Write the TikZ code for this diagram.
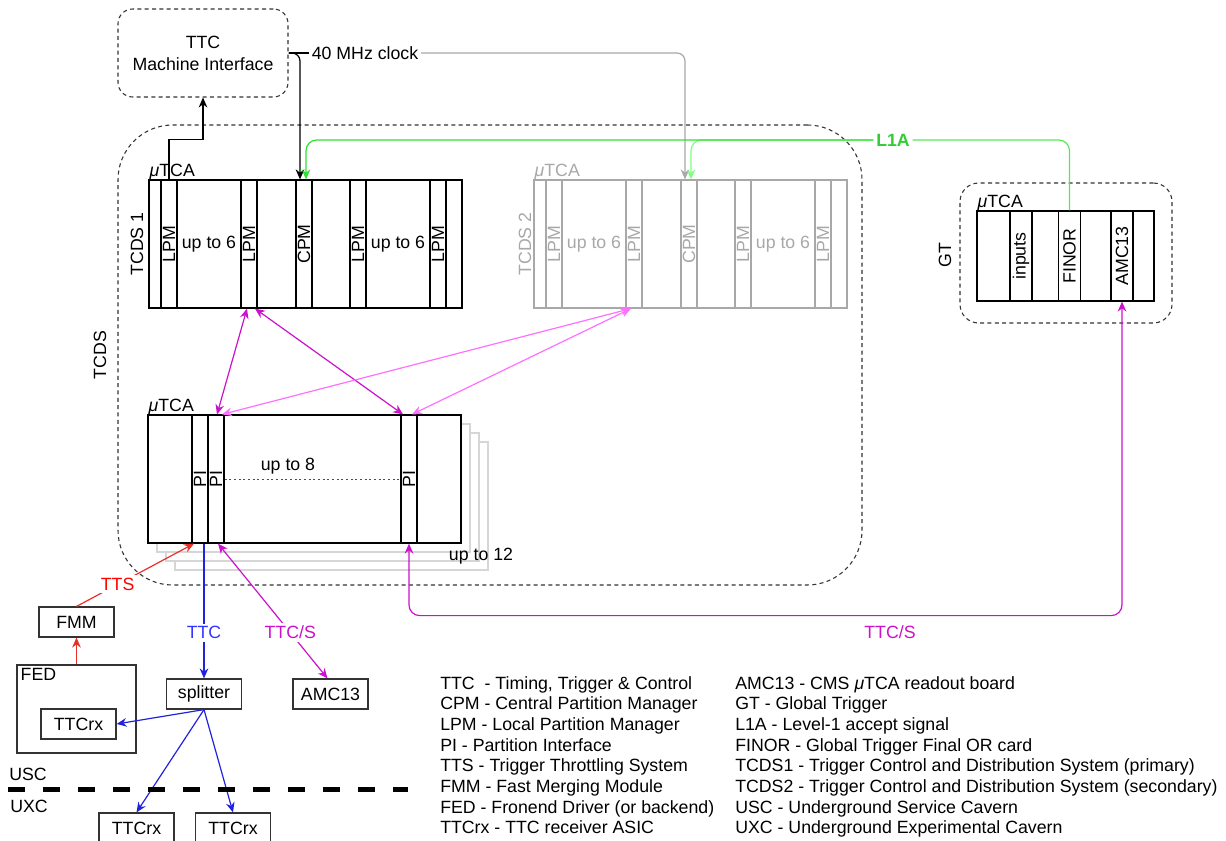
\documentclass[tikz,border=0pt]{standalone}
\usepackage{fontspec}
\setmainfont{Liberation Sans}
\usepackage{tikz}
\usetikzlibrary{arrows.meta, calc, positioning}
\definecolor{ttsred}{HTML}{E8302A}
\definecolor{ttcblue}{HTML}{2222DD}
\definecolor{ttcsdark}{HTML}{CC11CC}
\definecolor{ttcslight}{HTML}{FF70FF}
\definecolor{lonea}{HTML}{2FE02F}
\definecolor{loneb}{HTML}{80FF80}
\definecolor{lonetext}{HTML}{33CC33}
\definecolor{greyed}{HTML}{A8A8A8}
\definecolor{shade}{HTML}{D6D6D6}
\newcommand{\dfont}{\fontsize{13.3}{15.5}\selectfont}

\begin{document}
\begin{tikzpicture}[x=0.75pt, y=-0.75pt,
        every node/.append style={font=\dfont},
        crate/.style={draw, fill=white, inner sep=0pt, minimum height=96pt, line width=0.9pt},
        slot/.style={draw, inner sep=0pt, minimum width=12pt, minimum height=96pt, line width=0.9pt},
        gslot/.style={slot, minimum width=16.5pt, minimum height=67.5pt},
        box/.style={draw=black!80, inner sep=0pt, minimum width=56.25pt, minimum height=22.5pt, line width=0.9pt},
        group/.style={draw=black!80, dash pattern=on 3pt off 2.5pt, line width=0.8pt, inner sep=0pt},
        mu/.style={anchor=base west, inner sep=0pt},
        arr/.style={-{Stealth[length=7.5pt,width=6.5pt]}, line width=0.9pt},
        bi/.style={{Stealth[length=7.5pt,width=6.5pt]}-{Stealth[length=7.5pt,width=6.5pt]}, line width=0.9pt},
        sig/.style={fill=white, inner sep=2pt}
      ]
      \useasboundingbox (0,0) rectangle (1226,841);

      % dashed groups
      \node[group, rounded corners=41pt, minimum width=558pt, minimum height=345pt] (tcds) at (490,355) {};
      \node[rotate=90] (tcdslbl) at (100,355) {TCDS};
      \node[group, rounded corners=14pt, minimum width=159pt, minimum height=105pt] (gt) at (1066,253) {};
      \node[rotate=90] (gtlbl) at (945,255) {GT};
      \node[group, rounded corners=11pt, minimum width=127.5pt, minimum height=66pt, align=center,
            font=\fontsize{13.3}{16.5}\selectfont] (mi) at (203,53) {TTC\\Machine Interface};

      % TCDS 1
      \node[crate, minimum width=234.75pt] (tcdsa) at (305.5,244) {};
      \node[mu] (mua) at ($(tcdsa.north west)+(1,-3)$) {{\itshape μ}TCA};
      \node[rotate=90] (tcdsalbl) at (137,244) {TCDS 1};
      \node[slot] (lpma) at (169,244) {\rotatebox{90}{LPM}};
      \node (upa) at (209,244) {up to 6};
      \node[slot] (lpmb) at (249,244) {\rotatebox{90}{LPM}};
      \node[slot] (cpma) at (304,244) {\rotatebox{90}{CPM}};
      \node[slot] (lpmc) at (358,244) {\rotatebox{90}{LPM}};
      \node (upb) at (398,244) {up to 6};
      \node[slot] (lpmd) at (438,244) {\rotatebox{90}{LPM}};

      % TCDS 2
      \begin{scope}[every node/.append style={draw=greyed, text=greyed}]
      \node[crate, minimum width=234.75pt] (tcdsb) at (690.5,244) {};
      \node[slot] (lpmba) at (554,244) {\rotatebox{90}{LPM}};
      \node[slot] (lpmbb) at (634,244) {\rotatebox{90}{LPM}};
      \node[slot] (cpmb) at (689,244) {\rotatebox{90}{CPM}};
      \node[slot] (lpmbc) at (743,244) {\rotatebox{90}{LPM}};
      \node[slot] (lpmbd) at (823,244) {\rotatebox{90}{LPM}};
      \end{scope}
      \node[mu, text=greyed] (mub) at ($(tcdsb.north west)+(1,-3)$) {{\itshape μ}TCA};
      \node[rotate=90, text=greyed] (tcdsblbl) at (525,244) {TCDS 2};
      \node[text=greyed] (upc) at (594,244) {up to 6};
      \node[text=greyed] (upd) at (783,244) {up to 6};

      % PI crates, up to 12
      \foreach \k in {3,2,1}
        \node[crate, draw=shade, minimum width=234.75pt] at ({304.5+9*\k},{479+9*\k}) {};
      \node[crate, minimum width=234.75pt] (pic) at (304.5,479) {};
      \node[mu] (muc) at ($(pic.north west)+(1,-3)$) {{\itshape μ}TCA};
      \node[slot] (pia) at (200,479) {\rotatebox{90}{PI}};
      \node[slot] (pib) at (216,479) {\rotatebox{90}{PI}};
      \node[slot] (pic3) at (409,479) {\rotatebox{90}{PI}};
      \node (upe) at (288,466) {up to 8};
      \draw[black!70, dash pattern=on 1.5pt off 2pt, line width=0.6pt] (pib.east) -- (pic3.west);
      \node (upf) at (481,556) {up to 12};

      % GT crate
      \node[crate, minimum width=132.75pt, minimum height=67.5pt] (gtc) at (1065.5,256) {};
      \node[mu] (mud) at ($(gtc.north west)+(1,-3)$) {{\itshape μ}TCA};
      \node[gslot] (inp) at (1021,256) {\rotatebox{90}{inputs}};
      \node[gslot] (finor) at (1069.5,256) {\rotatebox{90}{FINOR}};
      \node[gslot] (gamc) at (1122,256) {\rotatebox{90}{AMC13}};

      % clock and L1A
      \node[sig] (clk) at (365,53) {40 MHz clock};
      \draw[line width=0.9pt] (mi.east) -- (clk.west);
      \draw[arr, greyed, rounded corners=6pt] (clk.east) -| ($(cpmb.north)+(-4,0)$);
      \draw[arr, rounded corners=6pt] (mi.east) -| ($(cpma.north)+(-4,0)$);
      \draw[arr] (lpma.north) -- ++(0,-40) -| (mi.south);
      \node[sig, text=lonetext, font=\dfont\bfseries] (l1a) at (893,140) {L1A};
      \draw[arr, loneb, rounded corners=8pt] (l1a.west) -| ($(cpmb.north)+(2,0)$);
      \draw[arr, lonea, rounded corners=8pt] (l1a.west) -| ($(cpma.north)+(2,0)$);
      \draw[line width=0.9pt, lonea!80, rounded corners=8pt] (finor.north) |- (l1a.east);

      % TTC/S links between crates
      \draw[bi, ttcsdark] ($(lpmb.south)+(-2,0)$) -- ($(pib.north)+(1,0)$);
      \draw[bi, ttcsdark] ($(lpmb.south)+(6,0)$) -- ($(pic3.north)+(-6,0)$);
      \draw[bi, ttcslight] ($(lpmbb.south)+(-3,0)$) -- ($(pib.north)+(6,0)$);
      \draw[bi, ttcslight] ($(lpmbb.south)+(-3,0)$) -- ($(pic3.north)+(3,0)$);
      \draw[bi, ttcsdark, rounded corners=8pt] (pic3.south) -- ++(0,72) -| (gamc.south);
      \node[text=ttcsdark] (ttcsgt) at (890,632) {TTC/S};

      % front end side
      \node[box] (fmm) at (76.5,622) {FMM};
      \node[draw=black!80, line width=0.9pt, minimum width=89.25pt, minimum height=66pt] (fed) at (76.5,709) {};
      \node[anchor=north west, inner sep=3pt] (fedlbl) at (fed.north west) {FED};
      \node[box] (rxfed) at (78.5,724) {TTCrx};
      \node[box] (split) at (204,694) {splitter};
      \node[box] (amcb) at (330.5,694) {AMC13};
      \node[box] (rxa) at (136.5,828) {TTCrx};
      \node[box] (rxb) at (233,828) {TTCrx};

      \draw[arr, ttsred] (fed.north) -- (fmm.south);
      \draw[arr, ttsred] (fmm.north) -- node[sig, pos=0.35, text=red] {TTS} ($(pia.south)+(-6,0)$);
      \draw[arr, ttcblue] ($(pia.south)+(4,0)$) -- node[sig, pos=0.66, text=blue!80] {TTC} (split.north);
      \draw[bi, ttcsdark] ($(pib.south)+(2,0)$) -- node[sig, pos=0.66, text=ttcsdark] {TTC/S} ($(amcb.north)+(-3,0)$);
      \draw[arr, ttcblue] (split.south) -- (rxfed.east);
      \draw[arr, ttcblue] (split.south) -- (rxa.north);
      \draw[arr, ttcblue] (split.south) -- (rxb.north);

      % cavern border
      \draw[line width=3.75pt, dash pattern=on 12.75pt off 13.5pt] (8,789) -- (408,789);
      \node (usc) at (28,774) {USC};
      \node (uxc) at (29,806) {UXC};

      % legend
      \node[anchor=north west, inner sep=0pt, align=left] (lega) at (440,676)
        {TTC\ \ - Timing, Trigger \& Control\\
         CPM - Central Partition Manager\\
         LPM - Local Partition Manager\\
         PI - Partition Interface\\
         TTS - Trigger Throttling System\\
         FMM - Fast Merging Module\\
         FED - Fronend Driver (or backend)\\
         TTCrx - TTC receiver ASIC};
      \node[anchor=north west, inner sep=0pt, align=left] (legb) at (735,676)
        {AMC13 - CMS {\itshape μ}TCA readout board\\
         GT - Global Trigger\\
         L1A - Level-1 accept signal\\
         FINOR - Global Trigger Final OR card\\
         TCDS1 - Trigger Control and Distribution System (primary)\\
         TCDS2 - Trigger Control and Distribution System (secondary)\\
         USC - Underground Service Cavern\\
         UXC - Underground Experimental Cavern};
    \end{tikzpicture}
\end{document}
